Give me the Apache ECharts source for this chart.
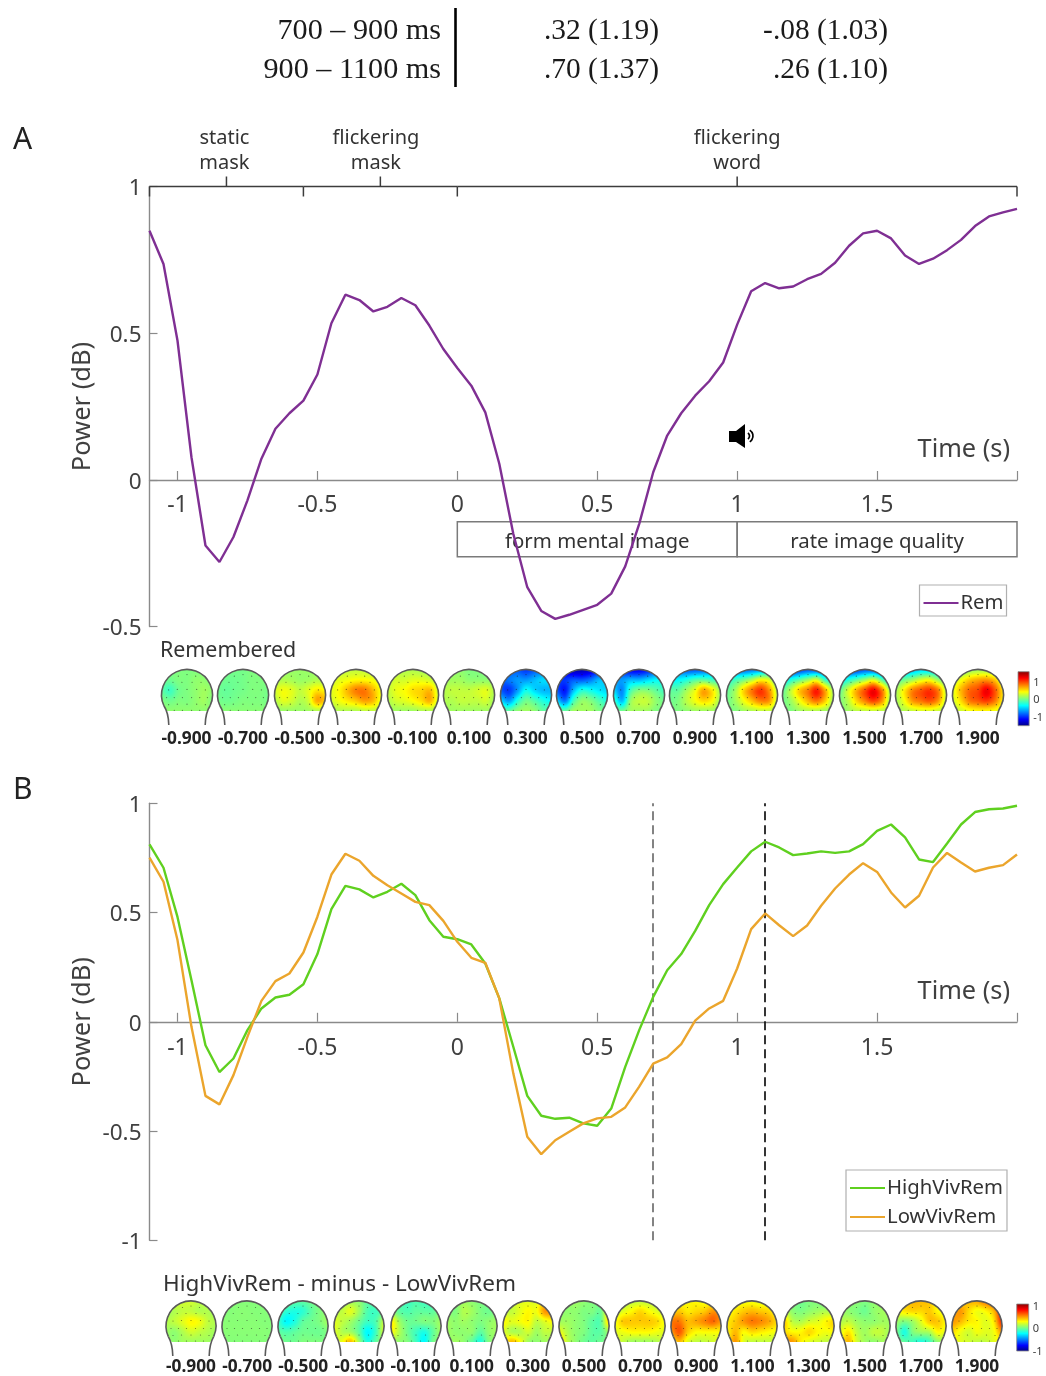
<!DOCTYPE html>
<html><head><meta charset="utf-8">
<style>html,body{margin:0;padding:0;background:#fff}#c{width:1046px;height:1376px}</style>
<script src="https://cdn.jsdelivr.net/npm/echarts@6/dist/echarts.min.js"></script>
</head><body><div id="c"></div>
<script>
const times=[-1.1,-1.05,-1,-0.95,-0.9,-0.85,-0.8,-0.75,-0.7,-0.65,-0.6,-0.55,-0.5,-0.45,-0.4,-0.35,-0.3,-0.25,-0.2,-0.15,-0.1,-0.05,0,0.05,0.1,0.15,0.2,0.25,0.3,0.35,0.4,0.45,0.5,0.55,0.6,0.65,0.7,0.75,0.8,0.85,0.9,0.95,1,1.05,1.1,1.15,1.2,1.25,1.3,1.35,1.4,1.45,1.5,1.55,1.6,1.65,1.7,1.75,1.8,1.85,1.9,1.95,2];
const rem=[.849,.736,.475,.077,-.224,-.28,-.195,-.07,.072,.174,.227,.27,.359,.534,.631,.613,.574,.59,.62,.595,.526,.446,.381,.321,.23,.055,-.184,-.366,-.447,-.474,-.46,-.443,-.426,-.388,-.295,-.15,.026,.151,.227,.287,.336,.4,.529,.643,.671,.653,.659,.684,.702,.74,.798,.84,.849,.823,.765,.736,.754,.783,.818,.865,.898,.912,.924];
const highViv=[.812,.705,.48,.19,-.107,-.23,-.168,-.038,.061,.111,.124,.172,.31,.516,.622,.606,.569,.595,.632,.58,.465,.389,.378,.354,.267,.107,-.114,-.339,-.43,-.444,-.439,-.465,-.476,-.397,-.206,-.038,.114,.236,.31,.416,.534,.63,.706,.78,.824,.798,.763,.77,.78,.773,.78,.813,.874,.903,.844,.743,.731,.816,.903,.96,.973,.976,.989];
const lowViv=[.751,.641,.374,-.023,-.339,-.378,-.244,-.069,.096,.186,.221,.317,.481,.674,.769,.737,.668,.625,.587,.549,.534,.462,.366,.293,.27,.107,-.236,-.526,-.606,-.542,-.503,-.465,-.442,-.435,-.392,-.297,-.191,-.163,-.102,.005,.061,.096,.244,.424,.496,.442,.392,.441,.531,.61,.674,.726,.686,.592,.523,.577,.706,.773,.729,.688,.705,.717,.766];
const timeTicks=[-1,-0.5,0,0.5,1,1.5,2];
const timeLabels=[-1,-0.5,0,0.5,1,1.5];
const phaseEdges=[-1.1,-0.55,0,2];
const phaseCentres=[-0.825,-0.275,1];
const phaseNames=['static\nmask','flickering\nmask','flickering\nword'];
const taskSpans=[[0,1],[1,2]];
const taskNames=['form mental image','rate image quality'];
const markerTimes=[0.7,1.1];
const tableLeft=['700 – 900 ms','900 – 1100 ms'];
const tableHigh=['.32 (1.19)','.70 (1.37)'];
const tableLow=['-.08 (1.03)','.26 (1.10)'];
const topoTimes=[-0.9,-0.7,-0.5,-0.3,-0.1,0.1,0.3,0.5,0.7,0.9,1.1,1.3,1.5,1.7,1.9];
// scalp maps: 5 rows x 7 columns (jet, +-1.55 colour units)
const topoRemembered=[
[[0,0,0,0,0,0,0],[-.05,-.05,0,0,.05,.05,0],[-.1,-.2,-.05,0,.05,.1,.05],[0,-.05,0,0,.05,.1,0],[.05,.05,.05,.05,.05,.05,.05]],
[[0,-.03,-.03,-.03,0,0,0],[-.03,-.05,-.05,-.03,0,0,0],[-.05,-.08,-.05,-.03,0,0,-.03],[-.03,-.05,-.03,0,0,0,-.03],[.03,.03,.03,.03,.03,.03,.03]],
[[.08,.08,.08,.08,.08,.08,.08],[.12,.15,.12,.08,.1,.15,.12],[.25,.35,.3,.2,.3,.45,.4],[.15,.3,.25,.15,.25,.65,.55],[.05,.08,.08,.08,.1,.15,.15]],
[[.2,.2,.2,.2,.2,.15,.15],[.25,.3,.35,.4,.4,.35,.25],[.3,.4,.6,.78,.8,.6,.35],[.25,.35,.45,.55,.68,.6,.3],[.12,.15,.15,.15,.2,.2,.15]],
[[.15,.15,.15,.15,.12,.1,.1],[.2,.25,.25,.3,.3,.25,.15],[.2,.32,.38,.48,.52,.58,.25],[.15,.25,.3,.38,.48,.62,.25],[.08,.1,.1,.1,.15,.15,.1]],
[[0,.05,.05,0,0,0,0],[.1,.1,.1,.05,.05,.05,.05],[.15,.2,.2,.2,.25,.3,.15],[.15,.15,.2,.2,.2,.25,.1],[.1,.1,.1,.1,.1,.1,.1]],
[[-.9,-.9,-.9,-1,-.9,-.8,-.7],[-.9,-.8,-.7,-.7,-.6,-.5,-.5],[-.9,-1,-.7,-.35,-.5,-.6,-.6],[-.5,-.7,-.3,-.05,-.15,-.3,-.4],[-.1,-.1,.05,.1,.05,-.1,-.1]],
[[-1.2,-1.3,-1.4,-1.4,-1.3,-1.1,-.9],[-1,-1,-.9,-.9,-.8,-.6,-.6],[-.9,-1.1,-.6,-.3,-.35,-.45,-.5],[-.5,-.8,-.2,.05,0,-.15,-.3],[0,-.1,.1,.1,.1,0,-.05]],
[[-1,-1.1,-1.2,-1.2,-1.1,-.9,-.7],[-.7,-.7,-.6,-.6,-.5,-.4,-.4],[-.5,-.75,-.2,0,0,-.1,-.2],[-.2,-.6,.05,.2,.2,.05,-.05],[0,-.05,.1,.1,.1,0,0]],
[[-.7,-.8,-.9,-.9,-.85,-.7,-.5],[-.4,-.4,-.3,-.15,-.1,-.2,-.2],[-.1,-.1,.1,.32,.65,.45,.1],[-.05,0,.18,.35,.5,.4,.1],[0,0,.05,.1,.1,.1,0]],
[[-.7,-.8,-.85,-.8,-.7,-.5,-.3],[-.3,-.2,-.05,.15,.38,.28,-.1],[-.1,.1,.5,.8,1,.72,.2],[-.05,.1,.35,.58,.78,.72,.2],[0,0,.1,.15,.2,.2,.1]],
[[-1,-1.1,-1,-.9,-.9,-.9,-.6],[-.5,-.3,-.1,.1,.28,-.2,-.4],[-.1,.2,.55,.78,1.08,.65,.1],[-.05,.1,.36,.62,.82,.55,.1],[0,0,.1,.15,.15,.1,.05]],
[[-.9,-1,-1,-.9,-.9,-1,-.8],[-.45,-.3,-.1,.1,.28,-.1,-.5],[-.1,.25,.62,.92,1.18,.78,.1],[0,.18,.52,.78,.98,.72,.1],[0,.1,.18,.2,.22,.18,.1]],
[[-.5,-.6,-.6,-.5,-.5,-.5,-.4],[-.15,-.05,.1,.28,.35,.1,-.1],[.1,.42,.75,.9,1,.78,.2],[.1,.35,.7,.82,.92,.72,.2],[.1,.15,.22,.28,.28,.22,.15]],
[[-.1,-.05,.05,.1,.1,.05,0],[.18,.35,.55,.65,.7,.55,.2],[.3,.6,.85,.95,1.2,.9,.45],[.25,.5,.8,.9,1,.8,.4],[.18,.25,.35,.4,.4,.35,.25]]
];
const topoDifference=[
[[.2,.25,.25,.25,.2,.2,.15],[.1,.15,.2,.2,.15,.15,.1],[.15,.2,.3,.4,.35,.2,.15],[.1,.05,.15,.25,.2,.15,.1],[.1,.05,.1,.1,.1,.1,.05]],
[[.02,.02,.02,.02,.02,.02,.02],[.02,.02,.03,.03,.02,.02,.02],[.03,.03,.03,.03,.03,.02,.02],[.03,.03,.03,.03,.03,.03,.02],[.02,.02,.02,.02,.02,.02,.02]],
[[.05,0,-.1,-.1,-.05,0,.05],[-.1,-.25,-.3,-.25,-.1,0,.05],[-.2,-.4,-.3,-.1,-.05,0,.1],[-.1,-.15,-.1,-.05,-.05,-.05,0],[0,-.05,-.05,0,0,0,0]],
[[.1,.1,.1,.05,-.1,-.1,-.1],[.15,.2,.3,.1,-.15,-.2,-.1],[.3,.2,.1,-.05,-.2,-.15,.2],[.3,.15,.1,-.1,-.4,-.2,.25],[.2,.35,.6,.1,-.3,-.1,.1]],
[[0,-.1,-.2,-.15,-.2,-.2,-.05],[.05,-.1,-.15,-.1,-.1,-.1,0],[.45,.1,-.05,-.05,0,0,.1],[.4,.15,-.05,-.2,-.3,-.1,.1],[.1,.05,0,-.2,-.4,-.05,.05]],
[[0,0,.1,.05,0,0,0],[.05,0,.15,.1,0,-.05,0],[.1,.05,.1,.05,0,.05,.1],[.1,.05,.05,.05,-.1,.05,.1],[.05,.1,.05,-.1,-.3,0,.05]],
[[.2,.25,.3,.3,.3,.5,.4],[.25,.2,.3,.4,.35,.7,.7],[.4,.3,.35,.4,.2,.3,.4],[.3,.15,.15,.25,.1,.2,.2],[.3,.6,.4,.1,.05,.1,.1]],
[[.05,.05,.1,.05,0,0,0],[.05,.05,.05,0,0,-.05,.4],[.1,.1,.05,0,-.1,-.1,.5],[.35,.15,.05,0,-.1,-.1,.1],[.55,.2,.05,-.05,-.1,-.05,0]],
[[.15,.15,.2,.2,.2,.15,.1],[.2,.3,.4,.5,.4,.3,.2],[.35,.55,.55,.55,.55,.5,.35],[.3,.35,.4,.4,.4,.35,.3],[.3,.2,.1,.1,.1,.15,.25]],
[[.35,.35,.4,.4,.35,.35,.3],[.5,.55,.45,.5,.55,.7,.7],[.8,.8,.6,.65,.75,.85,.7],[.7,.9,.55,.4,.4,.4,.4],[.4,.6,.3,.2,.2,.25,.3]],
[[.3,.3,.35,.35,.3,.3,.2],[.35,.45,.55,.6,.55,.5,.35],[.45,.55,.7,.8,.75,.65,.5],[.4,.6,.4,.5,.45,.4,.35],[.4,.7,.3,.2,.2,.2,.2]],
[[.05,0,-.05,0,0,-.1,-.15],[.2,.05,0,.05,.1,.15,.1],[.55,.2,.15,.25,.3,.4,.5],[.5,.4,.4,.5,.4,.35,.4],[.7,.7,.45,.3,.25,.2,.2]],
[[.1,.05,.05,0,.05,.05,.1],[.1,.05,0,-.05,.05,.1,.1],[.15,.2,.1,.05,.05,.1,.1],[.3,.45,.2,.1,.2,.2,.1],[.35,.6,.25,.1,.05,.1,.1]],
[[.4,.5,.6,.6,.55,.4,.3],[.35,.45,.5,.5,.55,.4,.3],[.1,0,.1,.3,.55,.55,.4],[0,-.3,0,.1,.15,.4,.3],[0,-.1,-.2,-.3,-.2,.05,.1]],
[[.5,.5,.6,.65,.8,.9,.9],[.6,.7,.5,.35,.4,.6,1.1],[.7,.6,.45,.4,.3,.45,1.05],[.5,.35,.25,.35,.3,.35,.7],[.4,.3,.25,.2,.2,.3,.4]]
];
const colourbarTicks=[1,0,-1];

const FONT='"Noto Sans"';
const GREY='#404040', AXIS='#8a8a8a';
const COL={rem:'#7f2f93',high:'#5fd01f',low:'#eba52c'};
const SCALE=1.55;
const clip01=v=>Math.max(0,Math.min(1,v));
function jet(v){
  const t=clip01((v+SCALE)/(2*SCALE));
  const c=k=>Math.round(255*clip01(1.5-Math.abs(4*t-k)));
  return 'rgb('+c(3)+','+c(2)+','+c(1)+')';
}
function cr(a,b,c,d,t){return b+0.5*t*(c-a+t*(2*a-5*b+4*c-d+t*(3*b-a-3*c+d)));}
function sample(m,u,v){
  const R=m.length,C=m[0].length;
  const r0=Math.floor(v),c0=Math.floor(u),ft=v-r0,fu=u-c0;
  const rows=[];
  for(let i=-1;i<=2;i++){
    const row=m[Math.max(0,Math.min(R-1,r0+i))];
    const g=j=>row[Math.max(0,Math.min(C-1,c0+j))];
    rows.push(cr(g(-1),g(0),g(1),g(2),fu));
  }
  return cr(rows[0],rows[1],rows[2],rows[3],ft);
}
const electrodes=[[-.34,-.74],[0,-.8],[.34,-.74],[-.55,-.5],[-.2,-.5],[.2,-.5],[.55,-.5],[-.72,-.2],[-.38,-.22],[0,-.22],[.38,-.22],[.72,-.2],[-.8,.1],[-.5,.1],[-.18,.1],[.18,.1],[.5,.1],[.8,.1],[-.72,.38],[-.38,.36],[0,.36],[.38,.36],[.72,.38],[-.5,.6],[-.18,.6],[.18,.6],[.5,.6]];
function topoRender(matrix,r){
  const flat=16;
  const pts=[];
  const a0=Math.asin(flat/r);
  for(let k=0;k<=60;k++){const a=Math.PI-a0+(Math.PI+2*a0)*k/60;pts.push([r*Math.cos(a),r*Math.sin(a)]);}
  return function(params,api){
    const c=api.coord([api.value(0),api.value(1)]);
    const m=matrix[params.dataIndex];
    const cells=[];
    const s=1;
    for(let y=-Math.ceil(r);y<flat;y+=s){
      for(let x=-Math.ceil(r);x<Math.ceil(r);x+=s){
        const px=x+s/2,py=y+s/2;
        if(px*px+py*py>(r+1)*(r+1))continue;
        const u=clip01((px+r)/(2*r))*6, v=clip01((py+r)/(r+flat))*4;
        cells.push({type:'rect',shape:{x:x,y:y,width:s,height:s},style:{fill:jet(sample(m,u,v))},silent:true});
      }
    }
    const dots=electrodes.map(e=>({type:'circle',shape:{cx:e[0]*r,cy:e[1]*r,r:.6},style:{fill:'rgba(30,30,30,.6)'},silent:true}));
    const stroke={stroke:'#5a5a5a',lineWidth:1.6,fill:null};
    const ang=25*Math.PI/180;
    const ex=r*Math.cos(ang),ey=r*Math.sin(ang);
    return {type:'group',x:Math.round(c[0]),y:Math.round(c[1]),children:[
      {type:'group',children:cells,clipPath:{type:'polygon',shape:{points:pts}}},
      {type:'group',children:dots},
      {type:'arc',shape:{cx:0,cy:0,r:r,startAngle:Math.PI-ang,endAngle:ang,clockwise:true},style:stroke,silent:true},
      {type:'bezierCurve',shape:{x1:-ex,y1:ey,cpx1:-18.4,cpy1:18,x2:-18.2,y2:30},style:stroke,silent:true},
      {type:'bezierCurve',shape:{x1:ex,y1:ey,cpx1:18.4,cpy1:18,x2:18.2,y2:30},style:stroke,silent:true}
    ]};
  };
}
function colourbarRender(lim){
  return function(params,api){
    const top=api.coord([0,lim]),bot=api.coord([0,-lim]);
    const size=api.size([1,0]);
    const stops=[];
    for(let i=0;i<=16;i++){stops.push({offset:i/16,color:jet(SCALE-2*SCALE*i/16)});}
    return {type:'rect',shape:{x:top[0],y:top[1],width:size[0],height:bot[1]-top[1]},
      style:{fill:new echarts.graphic.LinearGradient(0,0,0,1,stops),stroke:'#8a8a8a',lineWidth:.8},silent:true};
  };
}
function mainX(grid,name,offset,margin){
  return {type:'value',gridIndex:grid,min:-1.1,max:2,offset:offset,splitLine:{show:false},
    axisLine:{onZero:false,lineStyle:{color:AXIS,width:1.4}},
    axisTick:{inside:true,length:9,customValues:timeTicks,lineStyle:{color:AXIS,width:1.2}},
    axisLabel:{customValues:timeLabels,margin:margin,fontFamily:FONT,fontSize:23,color:GREY,showMinLabel:true,showMaxLabel:true,hideOverlap:false},
    name:name,nameLocation:'end',nameGap:-7,nameTextStyle:{fontFamily:FONT,fontSize:25.3,color:GREY,align:'right',verticalAlign:'bottom',padding:[0,0,18,0]}};
}
function mainY(grid,min){
  return {type:'value',gridIndex:grid,min:min,max:1,interval:.5,splitLine:{show:false},
    axisLine:{show:true,onZero:false,lineStyle:{color:AXIS,width:1.4}},
    axisTick:{show:true,inside:true,length:8,lineStyle:{color:AXIS,width:1.2}},
    axisLabel:{margin:8,fontFamily:FONT,fontSize:22.5,color:GREY,verticalAlign:'top',lineHeight:5,formatter:v=>String(v)},
    name:'Power (dB)',nameLocation:'middle',nameGap:54,nameMoveOverlap:false,nameRotate:90,nameTextStyle:{fontFamily:FONT,fontSize:25.5,color:GREY}};
}
function topoX(grid,margin){
  return {type:'value',gridIndex:grid,min:-1,max:2,splitLine:{show:false},axisLine:{show:false},axisTick:{show:false},
    axisLabel:{customValues:topoTimes,margin:margin,fontFamily:FONT,fontSize:17.3,fontWeight:'bold',color:'#222',formatter:v=>v.toFixed(3),hideOverlap:false}};
}
const hiddenY=g=>({type:'value',gridIndex:g,min:0,max:1,show:false});
const hiddenX=g=>({type:'value',gridIndex:g,min:0,max:1,show:false});
function barY(grid,lim){
  return {type:'value',gridIndex:grid,position:'right',min:-lim,max:lim,splitLine:{show:false},axisLine:{show:false},axisTick:{show:false},
    axisLabel:{customValues:colourbarTicks,margin:4,fontFamily:FONT,fontSize:11,color:GREY,verticalAlign:'top',lineHeight:3,hideOverlap:false,showMinLabel:true,showMaxLabel:true}};
}
function lineSeries(name,data,x,y,color,extra){
  return Object.assign({type:'line',name:name,xAxisIndex:x,yAxisIndex:y,data:times.map((t,i)=>[t,data[i]]),showSymbol:false,symbol:'none',smooth:false,z:5,clip:false,
    lineStyle:{color:color,width:2.4},itemStyle:{color:color}},extra||{});
}
const rowY=[31,70];
const serif='"Liberation Serif"';
const tableText=[];
rowY.forEach((y,i)=>{
  tableText.push({type:'text',style:{text:tableLeft[i],x:441,y:y,textAlign:'right',textVerticalAlign:'middle',font:'30.2px '+serif,fill:'#1a1a1a'}});
  tableText.push({type:'text',style:{text:tableHigh[i],x:659,y:y,textAlign:'right',textVerticalAlign:'middle',font:'29.4px '+serif,fill:'#1a1a1a'}});
  tableText.push({type:'text',style:{text:tableLow[i],x:888,y:y,textAlign:'right',textVerticalAlign:'middle',font:'29.4px '+serif,fill:'#1a1a1a'}});
});
const plainText=(t,x,y,size)=>({type:'text',style:{text:t,x:x,y:y,textVerticalAlign:'middle',font:size+'px '+FONT,fill:'#333'}});
const legendText={fontFamily:FONT,fontSize:20.3,color:'#333',padding:[0,0,0,-3]};
const option={
  animation:false,backgroundColor:'#fff',
  grid:[
    {left:149.5,top:186.5,width:867.5,height:440},
    {left:158.25,top:665,width:847.5,height:60},
    {left:1018,top:671.7,width:12,height:54},
    {left:149.5,top:803.3,width:867.5,height:437},
    {left:162.93,top:1297,width:842.1,height:60},
    {left:1016.7,top:1304,width:12,height:47}
  ],
  xAxis:[mainX(0,'Time (s)',-146.5,14),topoX(1,6),hiddenX(2),mainX(3,'Time (s)',-218.5,15),topoX(4,4),hiddenX(5)],
  yAxis:[mainY(0,-.5),hiddenY(1),barY(2,1.55),mainY(3,-1),hiddenY(4),barY(5,1.05)],
  legend:[
    {data:['Rem'],icon:'rect',selectedMode:false,left:919.5,top:585,orient:'vertical',itemWidth:35,itemHeight:2.2,itemGap:2,padding:[8,3,3,4],borderColor:'#b0b0b0',borderWidth:1.2,textStyle:legendText},
    {data:['HighVivRem','LowVivRem'],icon:'rect',selectedMode:false,left:846,top:1170,orient:'vertical',itemWidth:35,itemHeight:2.2,itemGap:9,padding:[8,4,4,4],borderColor:'#b0b0b0',borderWidth:1.2,textStyle:legendText}
  ],
  graphic:[
    ...tableText,
    {type:'rect',shape:{x:454.2,y:8,width:2.6,height:79},style:{fill:'#000'}},
    {type:'text',style:{text:'A',x:13,y:140,textVerticalAlign:'middle',font:'30px '+FONT,fill:'#222'}},
    {type:'text',style:{text:'B',x:13,y:790,textVerticalAlign:'middle',font:'30px '+FONT,fill:'#222'}},
    plainText('Remembered',160,651,21.4),
    plainText('HighVivRem - minus - LowVivRem',163,1285,22.5),
    {type:'polygon',shape:{points:[[729,431],[736,431],[745,424],[745,448],[736,442],[729,442]]},style:{fill:'#000'}},
    {type:'arc',shape:{cx:746,cy:436,r:3.5,startAngle:-1,endAngle:1},style:{stroke:'#000',fill:null,lineWidth:1.7}},
    {type:'arc',shape:{cx:746,cy:436,r:7,startAngle:-1,endAngle:1},style:{stroke:'#000',fill:null,lineWidth:1.7}}
  ],
  series:[
    {type:'custom',name:'tasks',coordinateSystem:'cartesian2d',xAxisIndex:0,yAxisIndex:0,z:2,
      data:taskSpans.map(s=>[s[0],s[1]]),encode:{x:[0,1]},
      renderItem(params,api){
        const a=api.coord([api.value(0),-.143]),b=api.coord([api.value(1),-.262]);
        return {type:'group',children:[
          {type:'rect',shape:{x:a[0],y:a[1],width:b[0]-a[0],height:b[1]-a[1]},style:{fill:null,stroke:'#7a7a7a',lineWidth:1.5},silent:true},
          {type:'text',x:(a[0]+b[0])/2,y:(a[1]+b[1])/2+3,style:{text:taskNames[params.dataIndex],textAlign:'center',textVerticalAlign:'middle',font:'20.4px '+FONT,fill:'#333'},silent:true}
        ]};
      }},
    {type:'custom',name:'phases',coordinateSystem:'cartesian2d',xAxisIndex:0,yAxisIndex:0,z:3,
      data:phaseEdges.slice(0,3).map((e,i)=>[e,phaseEdges[i+1],phaseCentres[i]]),encode:{x:[0,1,2]},
      renderItem(params,api){
        const a=api.coord([api.value(0),1]),b=api.coord([api.value(1),1]),m=api.coord([api.value(2),1]);
        const st={stroke:'#3c3c3c',lineWidth:1.5,fill:null};
        const shift=[-2,-4.5,0][params.dataIndex];
        const kids=[
          {type:'line',shape:{x1:a[0],y1:a[1],x2:b[0],y2:b[1]},style:st,silent:true},
          {type:'line',shape:{x1:a[0],y1:a[1],x2:a[0],y2:a[1]+10},style:st,silent:true},
          {type:'line',shape:{x1:m[0],y1:a[1],x2:m[0],y2:a[1]-10},style:st,silent:true},
          {type:'text',x:m[0]+shift,y:a[1]-11,style:{text:phaseNames[params.dataIndex],textAlign:'center',textVerticalAlign:'bottom',font:'20px '+FONT,lineHeight:25,fill:'#333'},silent:true}
        ];
        if(params.dataIndex===2)kids.push({type:'line',shape:{x1:b[0],y1:b[1],x2:b[0],y2:b[1]+10},style:st,silent:true});
        return {type:'group',children:kids};
      }},
    lineSeries('Rem',rem,0,0,COL.rem),
    lineSeries('HighVivRem',highViv,3,3,COL.high,{markLine:{silent:true,symbol:'none',label:{show:false},animation:false,
      data:[{xAxis:markerTimes[0],lineStyle:{color:'#6e6e6e',type:[9,5],width:1.7}},{xAxis:markerTimes[1],lineStyle:{color:'#111',type:[9,5],width:1.7}}]}}),
    lineSeries('LowVivRem',lowViv,3,3,COL.low),
    {type:'custom',name:'topoA',coordinateSystem:'cartesian2d',xAxisIndex:1,yAxisIndex:1,data:topoTimes.map(t=>[t,.5]),encode:{x:0,y:1},renderItem:topoRender(topoRemembered,25.5)},
    {type:'custom',name:'topoB',coordinateSystem:'cartesian2d',xAxisIndex:4,yAxisIndex:4,data:topoTimes.map(t=>[t,.5]),encode:{x:0,y:1},renderItem:topoRender(topoDifference,25)},
    {type:'custom',name:'barA',coordinateSystem:'cartesian2d',xAxisIndex:2,yAxisIndex:2,data:[[0,0]],renderItem:colourbarRender(1.55)},
    {type:'custom',name:'barB',coordinateSystem:'cartesian2d',xAxisIndex:5,yAxisIndex:5,data:[[0,0]],renderItem:colourbarRender(1.05)}
  ]
};
const chart=echarts.init(document.getElementById('c'),null,{renderer:'canvas',width:1046,height:1376});
chart.setOption(option);
</script>
</body></html>
